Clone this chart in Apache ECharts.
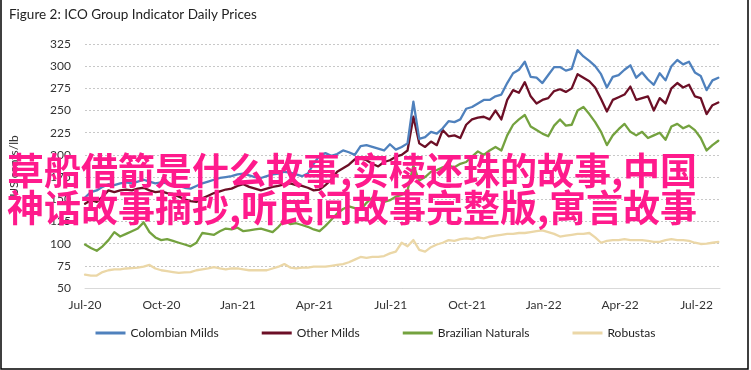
<!DOCTYPE html>
<html>
<head>
<meta charset="utf-8">
<script src="https://cdn.jsdelivr.net/npm/echarts@6/dist/echarts.min.js"></script>
<style>
html,body{margin:0;padding:0;background:#fff;}
#c{width:751px;height:370px;}
</style>
</head>
<body>
<div id="c"></div>
<script>
// ---- data ----
const titleText = 'Figure 2: ICO Group Indicator Daily Prices';
const yAxisName = 'US cents/lb';
const stepDays = 7;                 // weekly observations starting 1 Jul 2020 (day 0)
const xTickLabels = ['Jul-20','Oct-20','Jan-21','Apr-21','Jul-21','Oct-21','Jan-22','Apr-22','Jul-22'];
const seriesNames = ['Colombian Milds','Other Milds','Brazilian Naturals','Robustas'];

const colombianMilds = [152,158,160,164,167,166,168,169,168,170,172,170,168,169,168,166,165,163,162,165,
  168,170,172,174,175,176,178,179,177,175,174,176,178,179,181,180,178,176,179,190,
  199,202,199,201,205,203,200,210,211,209,207,205,212,206,209,213,260,218,220,226,
  224,230,238,237,240,252,254,258,262,262,266,268,281,292,296,305,288,287,281,290,
  299,299,295,297,318,311,306,300,291,276,288,290,296,301,287,293,285,279,292,284,
  300,307,302,305,293,289,273,284,287];
const otherMilds = [145,149,147,153,160,158,160,161,160,162,163,160,158,159,157,156,153,150,148,147,
  151,154,157,159,161,162,165,167,164,162,160,162,164,165,167,168,166,165,163,160,
  161,166,172,181,185,189,195,196,194,190,187,192,194,198,200,205,243,213,209,215,
  211,228,221,222,219,234,240,242,243,240,250,240,262,273,270,282,266,258,262,264,
  272,274,271,275,291,287,283,276,263,249,262,265,268,277,262,264,266,250,264,258,
  275,281,276,279,266,264,246,256,259];
const brazilianNaturals = [99,95,92,97,104,113,108,111,114,117,124,113,107,104,105,103,101,99,97,101,
  112,111,110,114,117,116,118,114,115,116,117,115,113,119,126,122,123,121,119,116,
  114,120,127,134,139,142,140,138,146,152,150,147,149,153,155,160,188,171,175,181,
  183,186,188,186,190,192,198,204,200,205,209,205,222,234,240,245,232,228,224,221,
  233,240,233,234,250,254,246,237,226,211,222,229,235,226,222,226,219,222,225,217,
  232,235,230,233,228,219,205,211,216];
const robustas = [65,64,64,68,70,71,71,72,72.5,73,74,76,72,70,69,68,67,67.5,68,70,
  71,72,73.5,72,71,72,72,71,70,70,70,70,72,74,77,73,72,73,73,74,
  74,74,75,76,77,79,82,85,84,85,85,86,89,91,101,97,104,93,91,96,
  99,101,104,103,105,106,105,107,106,108,109,110,111,111,112,112,113,114,115,113,
  111,108,109,110,111,111,112,107,101,103,104,104,105,104,104,104,103,102,102,104,
  105,104,104,103,101,99.6,100,101,102];

const overlayLine1 = '草船借箭是什么故事,实椟还珠的故事,中国';
const overlayLine2 = '神话故事摘抄,听民间故事完整版,寓言故事';

// ---- build ----
const QUARTER = 730 / 8;            // average quarter length in days
const X_MAX = 758;                  // last day shown (29 Jul 2022)
function toPairs(arr){ return arr.map((v,i)=>[i*stepDays, v]); }
const colors = ['#4f81bd','#6c0f26','#74a23f','#ebd7a7'];
const allSeries = [colombianMilds, otherMilds, brazilianNaturals, robustas];
const FONT = 'Lato';

const chart = echarts.init(document.getElementById('c'), null, {renderer:'canvas'});
chart.setOption({
  animation:false,
  backgroundColor:'#fff',
  textStyle:{fontFamily:FONT},
  title:{text:titleText,left:4,top:3,textStyle:{fontFamily:FONT,fontSize:13.5,fontWeight:'normal',color:'#222'}},
  grid:{left:82,right:31,top:44,bottom:82,containLabel:false},
  legend:{
    bottom:26,left:'center',itemWidth:30,itemHeight:3,itemGap:43,icon:'rect',
    textStyle:{fontFamily:FONT,fontSize:12,color:'#222'},
    data:seriesNames
  },
  xAxis:{
    type:'value',min:0,max:X_MAX,interval:QUARTER,
    axisLine:{show:true,lineStyle:{color:'#d9d9d9',width:1}},
    axisTick:{show:false},
    splitLine:{show:false},
    axisLabel:{
      margin:11,showMaxLabel:true,
      fontFamily:FONT,fontSize:12,color:'#333',
      formatter:function(v){
        const k = Math.round(v/QUARTER);
        if (Math.abs(v - k*QUARTER) > 1) return '';
        return xTickLabels[k] || '';
      }
    }
  },
  yAxis:{
    type:'value',min:50,max:325,interval:25,
    name:yAxisName,nameLocation:'middle',nameGap:65,nameRotate:90,
    nameTextStyle:{fontFamily:FONT,fontSize:12,color:'#333'},
    axisLine:{show:false},axisTick:{show:false},
    axisLabel:{margin:14,fontFamily:FONT,fontSize:12,color:'#333'},
    splitLine:{show:true,lineStyle:{color:'#c8c8c8',type:[2,2],width:1}}
  },
  series: seriesNames.map((n,i)=>({
    name:n,type:'line',showSymbol:false,symbol:'none',
    data:toPairs(allSeries[i]),
    lineStyle:{color:colors[i],width:2.3,join:'round',cap:'round'},
    itemStyle:{color:colors[i]},
    z:2+(3-i)
  })),
  graphic:[
    {type:'polyline',silent:true,z:100,shape:{points:[[1,0],[1,369],[748,369],[748,0]]},style:{stroke:'#000',lineWidth:1.5,fill:null}},
    {type:'text',silent:true,z:200,left:7,top:152,style:{text:overlayLine1,fill:'#ff1a8c',font:'bold 37px "Noto Sans CJK SC"'}},
    {type:'text',silent:true,z:200,left:7,top:189,style:{text:overlayLine2,fill:'#ff1a8c',font:'bold 37px "Noto Sans CJK SC"'}}
  ]
});
</script>
</body>
</html>
